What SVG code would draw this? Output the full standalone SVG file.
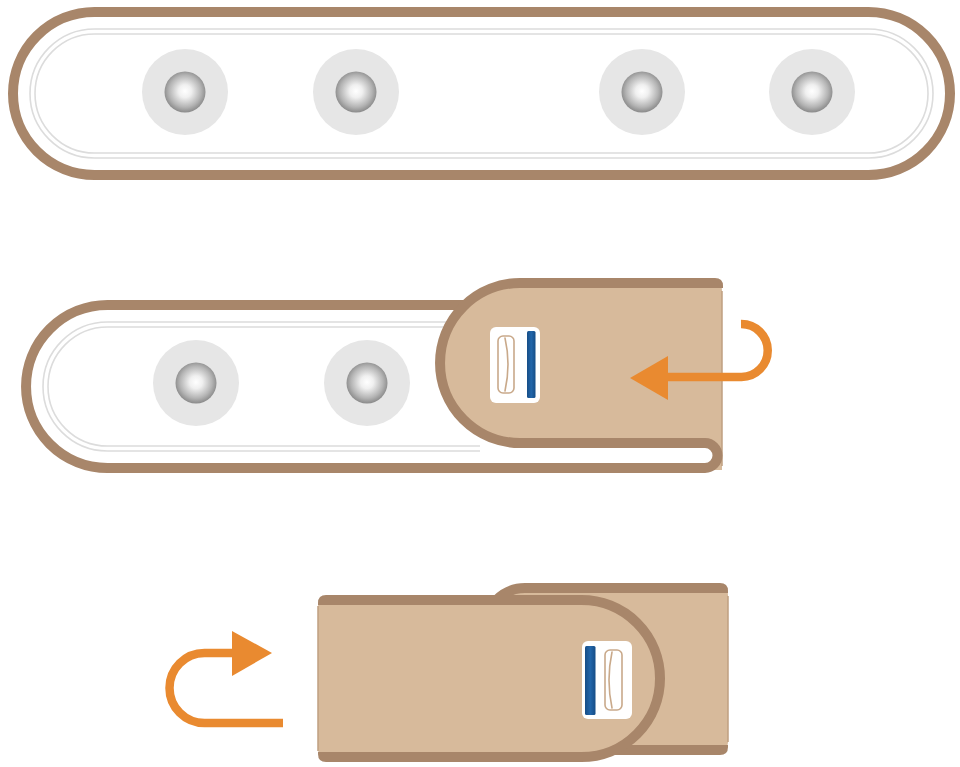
<svg xmlns="http://www.w3.org/2000/svg" width="960" height="767" viewBox="0 0 960 767">
  <defs>
    <radialGradient id="stud" cx="50%" cy="48%" r="52%">
      <stop offset="0" stop-color="#ffffff"/>
      <stop offset="0.3" stop-color="#f0f0f0"/>
      <stop offset="0.75" stop-color="#b4b4b4"/>
      <stop offset="1" stop-color="#8a8a8a"/>
    </radialGradient>
    <linearGradient id="bar" x1="0" y1="0" x2="1" y2="0">
      <stop offset="0" stop-color="#164d86"/>
      <stop offset="0.5" stop-color="#2266aa"/>
      <stop offset="1" stop-color="#164d86"/>
    </linearGradient>
    <g id="hole">
      <circle r="43" fill="#e6e6e6"/>
      <circle r="20.5" fill="url(#stud)"/>
    </g>
  </defs>
  <style>
    .edge { fill: none; stroke: #a8866a; stroke-width: 10; stroke-linecap: butt; stroke-linejoin: round; }
    .band { fill: #a8866a; }
    .inner { fill: none; stroke: #dcdcdc; stroke-width: 1.6; }
    .leather { fill: #d7ba9b; }
    .rim { fill: none; stroke: #bf9f80; stroke-width: 1.5; }
    .tag { fill: #ffffff; }
    .loop { fill: none; stroke: #c9a98a; stroke-width: 1.6; stroke-linecap: round; }
    .arrow { fill: none; stroke: #e98a30; stroke-width: 8.5; }
    .head { fill: #e98a30; }
  </style>

  <!-- flat strap with four studs -->
  <g id="strap-flat">
    <rect x="13" y="12" width="937" height="163" rx="81.5" fill="#ffffff" class="edge"/>
    <rect x="30" y="29" width="903" height="129" rx="64.5" class="inner"/>
    <rect x="35" y="34" width="893" height="119" rx="59.5" class="inner"/>
    <use href="#hole" x="185" y="92"/>
    <use href="#hole" x="356" y="92"/>
    <use href="#hole" x="642" y="92"/>
    <use href="#hole" x="812" y="92"/>
  </g>

  <!-- strap with its end folded back over -->
  <g id="strap-folding">
    <path d="M107.5,305 H700 V468 H107.5 A81.5,81.5 0 0 1 107.5,305 Z" fill="#ffffff"/>
    <path d="M560,322 H107.5 A64.5,64.5 0 0 0 107.5,451 H480" class="inner"/>
    <path d="M560,327 H107.5 A59.5,59.5 0 0 0 107.5,446 H480" class="inner"/>
    <use href="#hole" x="196" y="383"/>
    <use href="#hole" x="367" y="383"/>
    <path d="M600,305 H107.5 A81.5,81.5 0 0 0 107.5,468 H705" class="edge"/>
    <!-- folded flap -->
    <path d="M520,283 H714 Q722,283 722,291 V470 H705 A12.5,12.5 0 0 0 705,443 H520 A80,80 0 0 1 520,283 Z" class="leather"/>
    <path d="M722,291 V466" class="rim"/>
    <path d="M520,283 A80,80 0 0 0 520,443 H705 A12.5,12.5 0 0 1 705,468" class="edge"/>
    <path d="M519,278 H715 Q723,278 723,286 V288 H519 Z" class="band"/>
    <g id="tag-1">
      <rect x="490" y="327" width="50" height="76" rx="6" class="tag"/>
      <rect x="527" y="331" width="8.5" height="67" rx="1.5" fill="url(#bar)"/>
      <rect x="498" y="336" width="16" height="57" rx="5" class="loop"/>
      <path d="M505,338 Q511,364 505,391" class="loop"/>
    </g>
  </g>

  <!-- strap fully folded -->
  <g id="strap-folded">
    <path d="M525,588 H720 Q728,588 728,596 V742 Q728,750 720,750 H485 V628 A40,40 0 0 1 525,588 Z" class="leather"/>
    <path d="M728,596 V742" class="rim"/>
    <path d="M485,640 V628 A40,40 0 0 1 525,588" class="edge"/>
    <path d="M524,583 H720 Q728,583 728,591 V593 H524 Z" class="band"/>
    <path d="M560,745 H728 V747 Q728,755 720,755 H560 Z" class="band"/>
    <path d="M326,600 H581.5 A78.5,78.5 0 0 1 581.5,757 H326 Q318,757 318,749 V608 Q318,600 326,600 Z" class="leather"/>
    <path d="M318,606 V751" class="rim"/>
    <path d="M581.5,600 A78.5,78.5 0 0 1 581.5,757" class="edge"/>
    <path d="M318,605 V603 Q318,595 326,595 H582 V605 Z" class="band"/>
    <path d="M318,752 H582 V762 H326 Q318,762 318,754 Z" class="band"/>
    <g id="tag-2">
      <rect x="582" y="641" width="50" height="78" rx="6" class="tag"/>
      <rect x="585" y="646" width="10.5" height="69" rx="1.5" fill="url(#bar)"/>
      <rect x="605" y="650" width="17" height="60" rx="5" class="loop"/>
      <path d="M612,652 Q606,680 612,708" class="loop"/>
    </g>
  </g>

  <!-- fold direction arrows -->
  <g id="arrows">
    <path d="M741,324 A26.5,26.5 0 0 1 741.5,377 H664" class="arrow"/>
    <polygon points="630,378 668,356 668,400" class="head"/>
    <path d="M283,723 H204.5 A35,35 0 0 1 204.5,653 H236" class="arrow"/>
    <polygon points="272,653 232,631 232,676" class="head"/>
  </g>
</svg>
